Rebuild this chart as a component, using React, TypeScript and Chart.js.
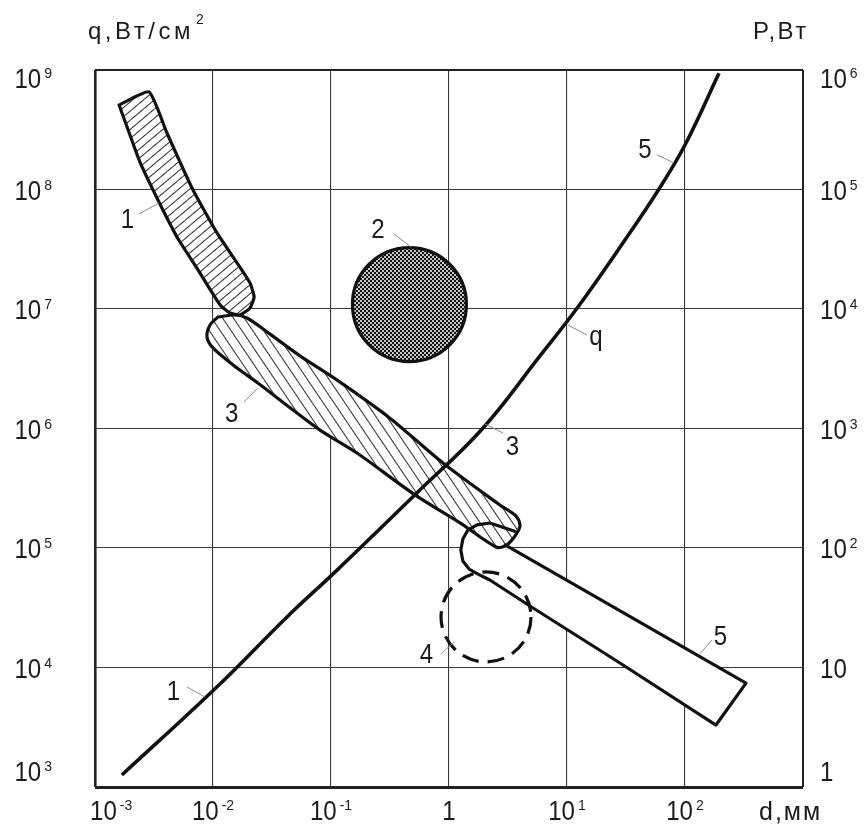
import { useEffect, useRef } from 'react';
import { Chart, registerables } from 'chart.js';

Chart.register(...registerables);

// Axis ticks: d (mm) along the bottom, q (W/cm²) on the left, P (W) on the right
const dTicks = [1e-3, 1e-2, 1e-1, 1, 10, 100, 1000];
const dTickLabels: [string, string][] = [['10', '-3'], ['10', '-2'], ['10', '-1'], ['1', ''], ['10', '1'], ['10', '2']];
const qTicks = [1e3, 1e4, 1e5, 1e6, 1e7, 1e8, 1e9];
const qTickLabels: [string, string][] = [['10', '3'], ['10', '4'], ['10', '5'], ['10', '6'], ['10', '7'], ['10', '8'], ['10', '9']];
const pTicks = [1, 10, 100, 1e3, 1e4, 1e5, 1e6];
const pTickLabels: [string, string][] = [['1', ''], ['10', ''], ['10', '2'], ['10', '3'], ['10', '4'], ['10', '5'], ['10', '6']];

// Curve q(d): [d, q]
const qCurve: [number, number][] = [
  [1.69e-3, 1.26e3], [1.10e-2, 7.0e3], [4.24e-2, 2.65e4], [0.112, 6.5e4], [0.536, 2.9e5],
  [1.91, 9.9e5], [5.9, 4.05e6], [12.2, 1.02e7], [27, 3.1e7], [61, 1.03e8], [102, 2.45e8], [194, 9.4e8],
];

// Region 1 outline (closed)
const region1: [number, number][] = [
  [1.60e-3, 5.09e8], [2.87e-3, 6.55e8], [4.07e-3, 2.97e8], [6.64e-3, 1.03e8], [1.08e-2, 4.33e7],
  [1.60e-2, 2.43e7], [2.06e-2, 1.65e7], [2.23e-2, 1.26e7], [2.06e-2, 1.02e7], [1.69e-2, 8.91e6],
  [1.39e-2, 9.27e6], [1.15e-2, 1.08e7], [7.31e-3, 2.20e7], [4.95e-3, 4.01e7], [3.35e-3, 8.49e7],
  [2.40e-3, 1.70e8], [1.87e-3, 3.33e8], [1.60e-3, 5.09e8],
];

// Region 3 outline (closed)
const region3: [number, number][] = [
  [1.10e-2, 8.57e6], [1.53e-2, 8.91e6], [1.94e-2, 8.41e6], [2.87e-2, 6.43e6], [5.46e-2, 4.05e6],
  [0.112, 2.55e6], [0.316, 1.22e6], [0.889, 5.14e5], [2.70, 2.29e5], [3.70, 1.85e5],
  [4.00, 1.56e5], [3.85, 1.39e5], [3.42, 1.17e5], [2.99, 1.04e5], [2.50, 1.02e5],
  [1.24, 1.62e5], [0.515, 2.78e5], [0.166, 6.24e5], [8.07e-2, 9.70e5], [4.50e-2, 1.49e6],
  [2.40e-2, 2.40e6], [1.48e-2, 3.40e6], [1.00e-2, 4.72e6], [8.89e-3, 5.83e6], [9.44e-3, 7.35e6],
  [1.10e-2, 8.57e6],
];

// Region 5 outline: upper edge, square end, lower edge, hook
const region5: [number, number][] = [
  [2.99, 1.06e5], [329, 7.41e3],
  [183, 3.30e3], [28.1, 1.09e4], [4.85, 3.27e4], [2.22, 5.40e4], [1.76, 6.05e4],
  [1.48, 6.67e4], [1.31, 7.78e4], [1.26, 9.61e4], [1.31, 1.19e5], [1.45, 1.42e5],
  [1.73, 1.56e5], [2.22, 1.62e5], [2.81, 1.50e5], [3.60, 1.38e5],
];

// Regions 2 and 4 (circles): centre [d, q]
const region2Centre: [number, number] = [0.462, 1.09e7];
const region4Centre: [number, number] = [2.06, 2.65e4];

// Numbered callouts: text centre, leader start, leader end
const callouts: { text: string; at: [number, number]; from: [number, number]; to: [number, number] }[] = [
  { text: '1', at: [1.88e-3, 5.78e7], from: [2.36e-3, 6.24e7], to: [3.48e-3, 7.71e7] },
  { text: '2', at: [0.25, 4.76e7], from: [0.342, 4.25e7], to: [0.476, 3.30e7] },
  { text: '3', at: [1.44e-2, 1.37e6], from: [1.83e-2, 1.67e6], to: [2.40e-2, 2.18e6] },
  { text: '3', at: [3.45, 7.28e5], from: [2.87, 9.16e5], to: [2.02, 1.09e6] },
  { text: 'q', at: [17.6, 6.05e6], from: [14.8, 6.05e6], to: [10.2, 7.35e6] },
  { text: '5', at: [45.8, 2.22e8], from: [57.9, 1.95e8], to: [80.7, 1.67e8] },
  { text: '5', at: [200, 1.87e4], from: [169, 1.70e4], to: [134, 1.30e4] },
  { text: '4', at: [0.644, 1.32e4], from: [0.855, 1.30e4], to: [1.10, 1.63e4] },
  { text: '1', at: [4.63e-3, 6.49e3], from: [6.03e-3, 6.87e3], to: [8.55e-3, 5.66e3] },
];

const INK = '#1c1c1c';
const NUM_FONT = '28px "Liberation Sans", Arial, sans-serif';
const SUP_FONT = '14px "Liberation Sans", Arial, sans-serif';
const TITLE_FONT = '24px "Liberation Sans", Arial, sans-serif';
const NUM_SX = 0.86;

const W = 856;
const H = 822;

const pts = (arr: [number, number][]) => arr.map(([x, y]) => ({ x, y }));

function hatch(ctx: CanvasRenderingContext2D, step: number, angle: number) {
  const c = document.createElement('canvas');
  c.width = step;
  c.height = step;
  const g = c.getContext('2d')!;
  g.fillStyle = '#fff';
  g.fillRect(0, 0, step, step);
  g.fillStyle = '#2a2a2a';
  g.fillRect(Math.floor(step / 2), 0, 1, step);
  const p = ctx.createPattern(c, 'repeat')!;
  p.setTransform(new DOMMatrix().rotateSelf(angle));
  return p;
}

function mesh(ctx: CanvasRenderingContext2D) {
  const c = document.createElement('canvas');
  c.width = 4;
  c.height = 4;
  const g = c.getContext('2d')!;
  g.fillStyle = '#141414';
  g.fillRect(0, 0, 4, 4);
  g.fillStyle = '#fff';
  g.beginPath();
  g.arc(1, 1, 1.0, 0, Math.PI * 2);
  g.arc(3, 3, 1.0, 0, Math.PI * 2);
  g.fill();
  return ctx.createPattern(c, 'repeat')!;
}

// "10" with a raised exponent; yMid is the centre of the main digits
function drawPow(ctx: CanvasRenderingContext2D, label: [string, string], x: number, yMid: number, align: 'left' | 'right' | 'center', minLeft = -Infinity) {
  const [base, exp] = label;
  ctx.font = NUM_FONT;
  const wb = ctx.measureText(base).width * NUM_SX;
  ctx.font = SUP_FONT;
  const we = exp ? ctx.measureText(exp).width + 3 : 0;
  const total = wb + we;
  let left = align === 'left' ? x : align === 'right' ? x - total : x - total / 2;
  left = Math.max(left, minLeft);
  ctx.save();
  ctx.translate(left, yMid + 10);
  ctx.scale(NUM_SX, 1);
  ctx.font = NUM_FONT;
  ctx.fillText(base, 0, 0);
  ctx.restore();
  if (exp) {
    ctx.font = SUP_FONT;
    ctx.fillText(exp, left + wb + 3, yMid);
  }
}

function drawSpaced(ctx: CanvasRenderingContext2D, text: string, x: number, y: number, spacing: number) {
  (ctx as any).letterSpacing = spacing + 'px';
  ctx.fillText(text, x, y);
  const w = ctx.measureText(text).width;
  (ctx as any).letterSpacing = '0px';
  return w;
}

const textPlugin = {
  id: 'diagramText',
  afterDraw(chart: any) {
    const { ctx, chartArea: a, scales } = chart;
    const clampY = (y: number) => Math.min(Math.max(y, a.top + 8), a.bottom - 16);
    ctx.save();
    ctx.fillStyle = INK;
    ctx.textAlign = 'left';
    ctx.textBaseline = 'alphabetic';

    qTicks.forEach((v, i) => drawPow(ctx, qTickLabels[i], a.left - 43, clampY(scales.y.getPixelForValue(v)), 'right'));
    pTicks.forEach((v, i) => drawPow(ctx, pTickLabels[i], a.right + 17, clampY(scales.y2.getPixelForValue(v)), 'left'));
    dTickLabels.forEach((lab, i) => drawPow(ctx, lab, scales.x.getPixelForValue(dTicks[i]), a.bottom + 23, 'center', a.left - 5));

    callouts.forEach((c) => {
      const x = scales.x.getPixelForValue(c.at[0]);
      const y = scales.y.getPixelForValue(c.at[1]);
      ctx.save();
      ctx.font = NUM_FONT;
      const w = ctx.measureText(c.text).width * NUM_SX;
      ctx.translate(x - w / 2, y + 10);
      ctx.scale(NUM_SX, 1);
      ctx.fillText(c.text, 0, 0);
      ctx.restore();
    });

    // axis titles
    ctx.font = TITLE_FONT;
    const wq = drawSpaced(ctx, 'q,Вт/см', a.left - 7, a.top - 31, 3.5);
    ctx.font = SUP_FONT;
    ctx.fillText('2', a.left - 5 + wq, a.top - 46);
    ctx.font = TITLE_FONT;
    drawSpaced(ctx, 'P,Вт', a.right - 50, a.top - 31, 2.5);
    ctx.font = '25px "Liberation Sans", Arial, sans-serif';
    drawSpaced(ctx, 'd,мм', a.right - 44, a.bottom + 33, 2);
    ctx.restore();
  },
};

const dashPlugin = {
  id: 'dashedRing',
  beforeDatasetDraw(chart: any, args: any) {
    const ds = chart.data.datasets[args.index];
    if (ds.ringDash) chart.ctx.setLineDash(ds.ringDash);
  },
  afterDatasetDraw(chart: any) {
    chart.ctx.setLineDash([]);
  },
};

export default function App() {
  const ref = useRef<HTMLCanvasElement | null>(null);

  useEffect(() => {
    const canvas = ref.current!;
    const ctx = canvas.getContext('2d')!;
    const hatch1 = hatch(ctx, 7, 50);
    const hatch3 = hatch(ctx, 9, -34);
    const mesh2 = mesh(ctx);

    const outline = { showLine: true, pointRadius: 0, borderColor: '#111', borderWidth: 3.2, borderJoinStyle: 'round', borderCapStyle: 'round' };

    const datasets: any[] = [
      { label: 'region5-fill', data: pts(region5), showLine: true, pointRadius: 0, borderWidth: 0, borderColor: 'rgba(0,0,0,0)', fill: 'shape', backgroundColor: '#fff', order: 20 },
      { label: 'region1', data: pts(region1), ...outline, fill: 'shape', backgroundColor: hatch1, tension: 0.16, order: 19 },
      { label: 'region3', data: pts(region3), ...outline, fill: 'shape', backgroundColor: hatch3, tension: 0.3, order: 18 },
      { label: 'region2', data: pts([region2Centre]), pointRadius: 57, pointBackgroundColor: mesh2, pointBorderColor: '#111', pointBorderWidth: 3.2, order: 17 },
      { label: 'region5', data: pts(region5), ...outline, fill: false, tension: 0, order: 16 },
      { label: 'region4', data: pts([region4Centre]), pointRadius: 45, pointBackgroundColor: 'rgba(0,0,0,0)', pointBorderColor: '#111', pointBorderWidth: 3.2, ringDash: [17, 9], order: 15 },
      { label: 'q', data: pts(qCurve), showLine: true, pointRadius: 0, borderColor: '#111', borderWidth: 3.6, tension: 0.4, fill: false, order: 14 },
      ...callouts.map((c, i) => ({ label: 'leader' + i, data: pts([c.from, c.to]), showLine: true, pointRadius: 0, borderColor: '#8a8a8a', borderWidth: 1, fill: false, order: 10 })),
    ];

    const gridColor = '#3a3a3a';
    const chart = new Chart(canvas, {
      type: 'scatter',
      data: { datasets },
      options: {
        animation: false,
        responsive: false,
        maintainAspectRatio: false,
        devicePixelRatio: 1,
        events: [],
        layout: { autoPadding: false, padding: { left: 87, right: W - 795, top: 62, bottom: H - 779 } },
        plugins: { legend: { display: false }, tooltip: { enabled: false } },
        scales: {
          x: {
            type: 'logarithmic', min: 1e-3, max: 1e3, position: 'bottom',
            afterBuildTicks: (s: any) => { s.ticks = dTicks.map((value) => ({ value })); },
            ticks: { display: false },
            border: { display: false },
            grid: {
              drawTicks: false,
              color: (c: any) => (c.index === 0 || c.index === dTicks.length - 1 ? '#222' : gridColor),
              lineWidth: (c: any) => (c.index === 0 ? 2.6 : c.index === dTicks.length - 1 ? 2 : 1.1),
            },
          },
          y: {
            type: 'logarithmic', min: 1e3, max: 1e9, position: 'left',
            afterBuildTicks: (s: any) => { s.ticks = qTicks.map((value) => ({ value })); },
            ticks: { display: false },
            border: { display: false },
            grid: {
              drawTicks: false,
              color: (c: any) => (c.index === 0 || c.index === qTicks.length - 1 ? '#222' : gridColor),
              lineWidth: (c: any) => (c.index === 0 ? 3 : c.index === qTicks.length - 1 ? 2 : 1.1),
            },
          },
          y2: {
            type: 'logarithmic', min: 1, max: 1e6, position: 'right',
            afterBuildTicks: (s: any) => { s.ticks = pTicks.map((value) => ({ value })); },
            ticks: { display: false },
            border: { display: false },
            grid: { display: false, drawTicks: false },
          },
        },
      } as any,
      plugins: [dashPlugin, textPlugin],
    });
    return () => chart.destroy();
  }, []);

  return (
    <div style={{ position: 'absolute', left: 8, top: 8, width: W, height: H }}>
      <canvas ref={ref} width={W} height={H} style={{ display: 'block' }} />
    </div>
  );
}
